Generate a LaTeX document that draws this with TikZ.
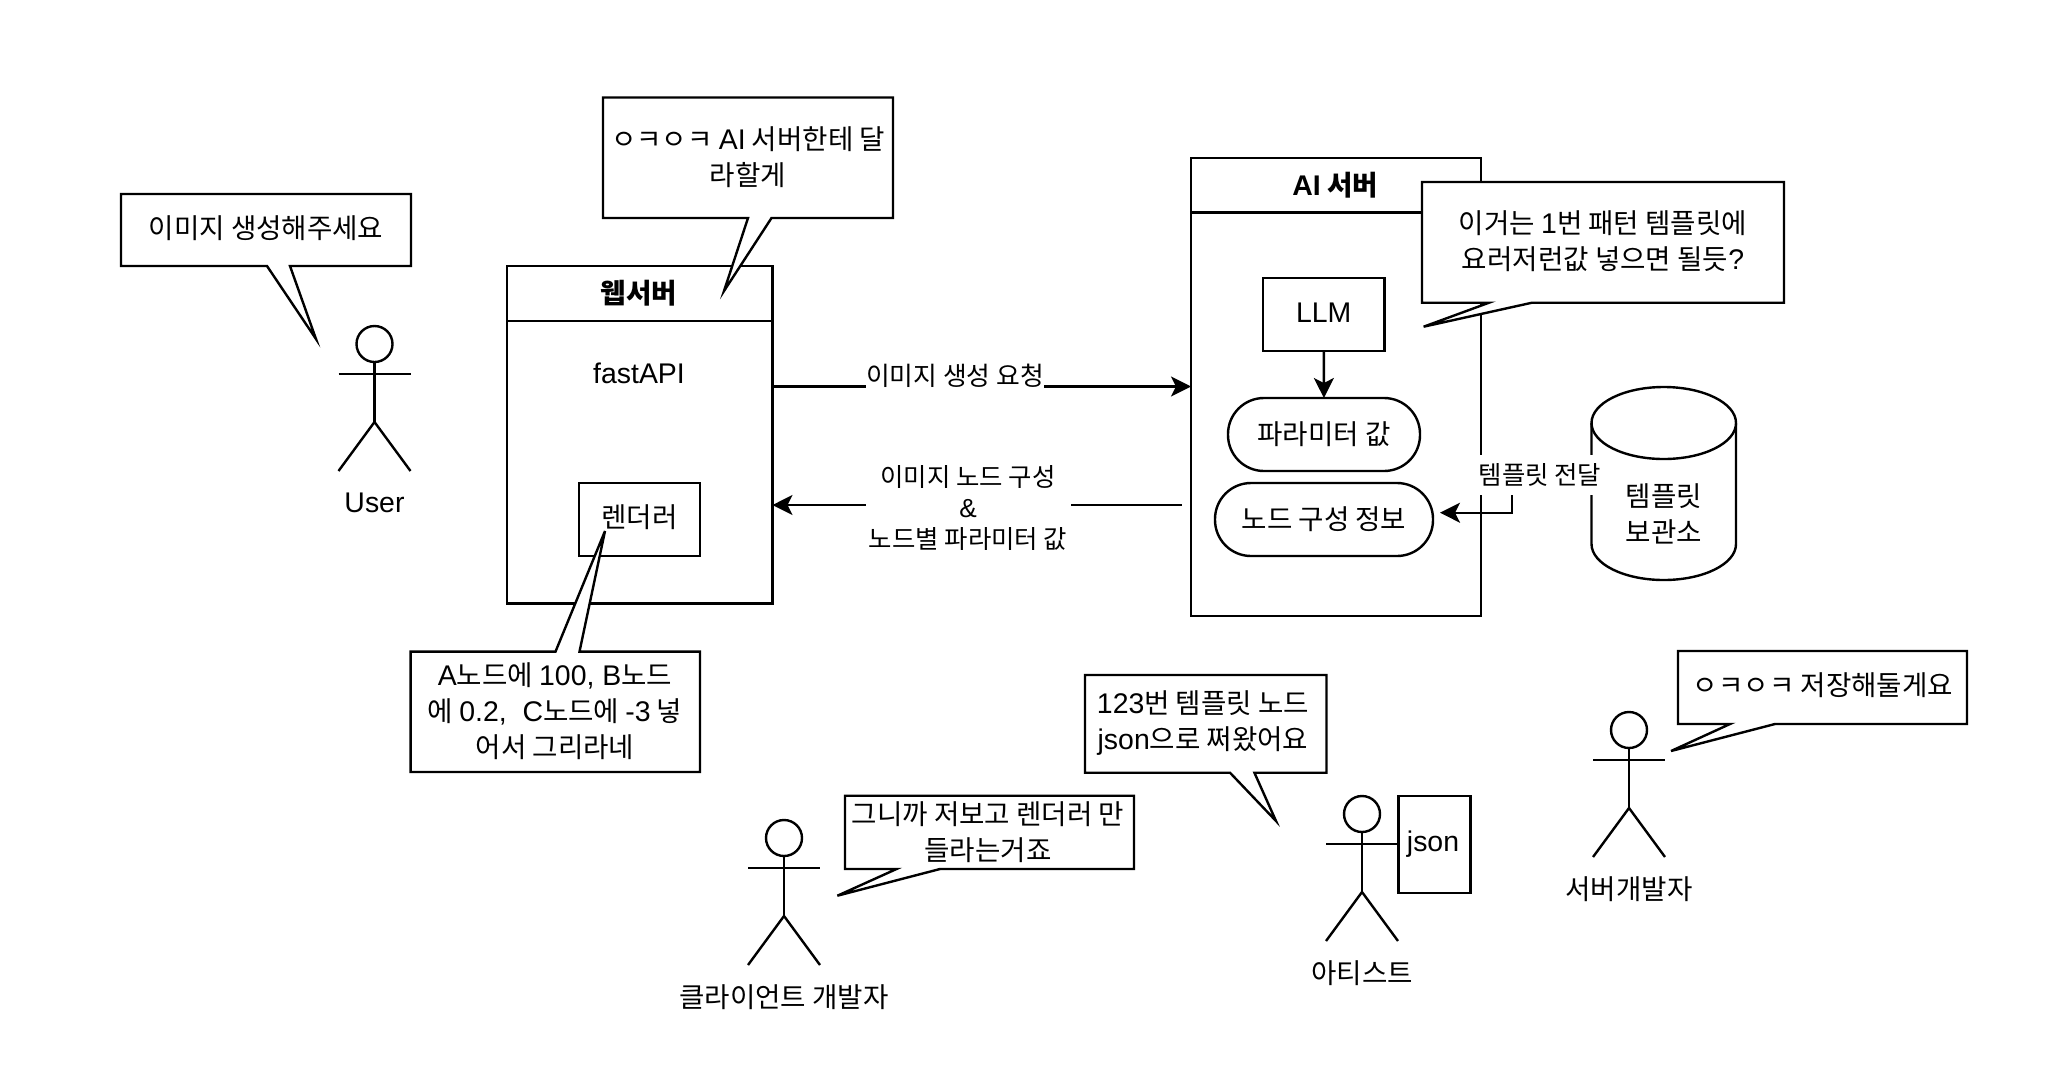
\documentclass[tikz,border=0pt]{standalone}
\usepackage{fontspec}
\usetikzlibrary{arrows.meta}
\setmainfont{Noto Sans CJK KR}
\newfontfamily\latinfam[Scale=1.03]{Liberation Sans}
\newcommand{\La}[1]{{\latinfam #1}}
\tikzset{
  ln/.style={line width=1.2pt,draw=black},
  flow/.style={ln,-{Stealth[length=10pt,width=10pt,inset=2.5pt]}},
  bubble/.style={ln,fill=white,line join=miter},
  lab/.style={inner sep=0pt,outer sep=0pt,align=center,font=\fontsize{13.8}{18}\selectfont},
  box/.style={ln,fill=white,inner sep=0pt,outer sep=0pt,align=center,font=\fontsize{13.8}{18}\selectfont},
  pill/.style={box,rounded corners=18pt},
  gaplab/.style={lab,fill=white,font=\fontsize{12.7}{15.5}\selectfont}
}
\begin{document}
\begin{tikzpicture}[x=0.5pt,y=-0.5pt]
  \useasboundingbox (0,0) rectangle (2048,1087);

  % servers
  \node[box,minimum width=132.75pt,minimum height=168.7pt] (web) at (639.75,434.7) {};
  \draw[ln] (web.west |- 0,321) -- (web.east |- 0,321);
  \node[lab,font=\fontsize{13.8}{18}\selectfont\bfseries] (webtitle) at (639,293.5) {웹서버};
  \node[lab] (fastapi) at (639,373) {\La{fastAPI}};
  \node[box,minimum width=60.5pt,minimum height=36.5pt] (render) at (639.5,519.5) {};
  \node[lab] (rendertext) at (639.5,517) {렌더러};

  \node[box,minimum width=145pt,minimum height=229.15pt] (ai) at (1336,386.85) {};
  \draw[ln] (ai.west |- 0,212.3) -- (ai.east |- 0,212.3);
  \node[lab,font=\fontsize{13.8}{18}\selectfont\bfseries] (aititle) at (1335,185) {\La{AI} 서버};
  \node[box,minimum width=60.7pt,minimum height=36.5pt] (llm) at (1323.7,314.5) {};
  \node[lab] (llmtext) at (1323.7,312.5) {\La{LLM}};
  \node[pill,minimum width=96pt,minimum height=36.5pt] (param) at (1324,434.5) {파라미터 값};
  \node[pill,minimum width=109pt,minimum height=36.5pt] (nodeinfo) at (1324,519.5) {노드 구성 정보};
  \draw[flow] (llm) -- (param);

  % store
  \draw[ln,fill=white] (1591.5,423) -- (1591.5,544) arc[start angle=180,end angle=0,x radius=72.25,y radius=36] -- (1736,423);
  \draw[ln,fill=white] (1663.75,423) ellipse [x radius=72.25,y radius=36];
  \coordinate (storew) at (1591.5,483);
  \node[lab] (store) at (1664,514) {템플릿\\보관소};

  % connectors
  \draw[flow] (web.east |- 0,386.5) -- (ai.west |- 0,386.5);
  \node[gaplab,minimum width=87pt,minimum height=16pt,font=\fontsize{12.9}{15.5}\selectfont] (reqlab) at (955,376) {이미지 생성 요청};
  \draw[flow,shorten <=4.7pt] (ai.west |- 0,505) -- (web.east |- 0,505);
  \node[gaplab,minimum width=102.5pt,minimum height=46pt] (retlab) at (968,508) {이미지 노드 구성\\\La{\&}\\노드별 파라미터 값};
  \draw[flow,shorten >=3.5pt] (storew) -- ++(-79.5,0) |- (nodeinfo.east |- 0,512.7);
  \node[gaplab,minimum width=62pt,minimum height=20pt] (tpllab) at (1540,475) {템플릿 전달};

  % people
  \foreach \nm/\cx/\cy/\lab in {user/374.5/344/{\La{User}},client/784/838/{클라이언트 개발자},artist/1362/814/{아티스트},backend/1629/730/{서버개발자}}{
    \draw[ln] (\cx,\cy) circle (18);
    \draw[ln] (\cx,\cy+18) -- (\cx,\cy+78) (\cx-36,\cy+30) -- (\cx+36,\cy+30);
    \draw[ln] (\cx-36,\cy+127) -- (\cx,\cy+78) -- (\cx+36,\cy+127);
    \node[lab] (\nm) at (\cx,\cy+159) {\lab};
  }
  \node[box,minimum width=36pt,minimum height=48.65pt] (json) at (1434.5,844.35) {};
  \node[lab] (jsontext) at (1433,844) {\La{json}};

  % speech bubbles
  \draw[bubble] (121,194) -- (411,194) -- (411,266) -- (290,266) -- (316,339) -- (267,266) -- (121,266) -- cycle;
  \node[lab] (usersay) at (266,228) {이미지 생성해주세요};
  \draw[bubble] (603,97.5) -- (893,97.5) -- (893,218) -- (771.5,218) -- (724,291) -- (748,218) -- (603,218) -- cycle;
  \node[lab] (websay) at (748,157) {ㅇㅋㅇㅋ \La{AI} 서버한테 달\\라할게};
  \draw[bubble] (410.6,651.6) -- (555.5,651.6) -- (605,531) -- (579.5,651.6) -- (700,651.6) -- (700,772) -- (410.6,772) -- cycle;
  \node[lab] (rendersay) at (555,711) {\La{A}노드에 \La{100, B}노드\\에 \La{0.2,\ \ C}노드에 \La{-3} 넣\\어서 그리라네};
  \draw[bubble] (1422,182) -- (1784,182) -- (1784,302.7) -- (1532,302.7) -- (1423.6,326.7) -- (1489,302.7) -- (1422,302.7) -- cycle;
  \node[lab] (aisay) at (1603,241.5) {이거는 \La{1}번 패턴 템플릿에\\요러저런값 넣으면 될듯\La{?}};
  \draw[bubble] (845,795.7) -- (1134,795.7) -- (1134,869) -- (940,869) -- (837.4,895.7) -- (896.5,869) -- (845,869) -- cycle;
  \node[lab] (clientsay) at (988,832) {그니까 저보고 렌더러 만\\들라는거죠};
  \draw[bubble] (1085,675) -- (1326.5,675) -- (1326.5,772.7) -- (1254.4,772.7) -- (1276,821) -- (1230,772.7) -- (1085,772.7) -- cycle;
  \node[lab] (artistsay) at (1203,723.5) {\La{123}번 템플릿 노드\\\La{json}으로 쩌왔어요};
  \draw[bubble] (1678,651) -- (1967,651) -- (1967,724) -- (1775,724) -- (1671,751) -- (1730,724) -- (1678,724) -- cycle;
  \node[lab] (backendsay) at (1823,685) {ㅇㅋㅇㅋ 저장해둘게요};
\end{tikzpicture}
\end{document}
